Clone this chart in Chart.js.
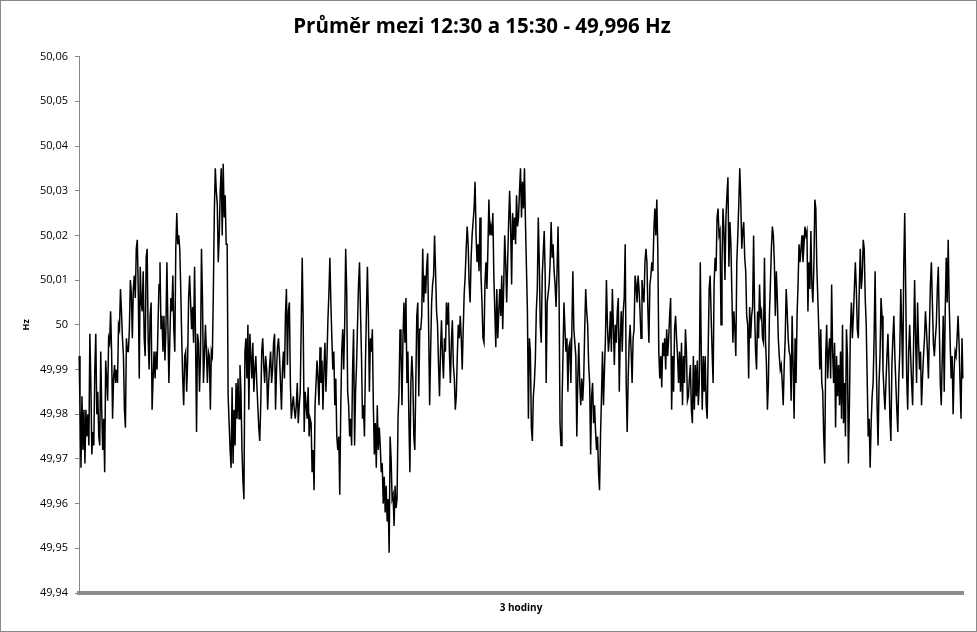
<!DOCTYPE html>
<html lang="cs">
<head>
<meta charset="utf-8">
<title>Průměr mezi 12:30 a 15:30</title>
<script src="https://cdn.jsdelivr.net/npm/chart.js@4.4.1/dist/chart.umd.min.js"></script>
<style>
    html, body { margin: 0; padding: 0; background: #fff; }
    #frame { width: 977px; height: 632px; box-sizing: border-box; border: 1px solid #8a8a8a; }
    canvas { display: block; }
</style>
</head>
<body>
<div id="frame"><canvas id="freq-chart" width="975" height="630"></canvas></div>
<script>
// Frekvence sítě (Hz), odečteno z grafu po půlhodinách
const hz1230 = [
    49.993,49.982,49.968,49.984,49.972,49.981,49.969,49.981,49.975,49.980,
    49.973,49.998,49.987,49.971,49.976,49.973,49.990,49.998,49.980,49.985,
    49.975,49.973,49.994,49.981,49.972,49.979,49.967,49.992,49.988,49.983,
    49.997,49.996,50.003,49.994,49.979,49.988,49.991,49.987,49.990,49.987,
    50.000,49.999,50.008,50.003,49.997,49.993,49.981,49.977,49.997,49.994,
    49.994,49.999,50.010,50.007,49.997,50.008,50.011,50.006,50.017,50.019,
    50.008,49.988,50.013,50.005,50.003,50.012,49.997,49.993,50.015,50.017,
    49.997,49.990,50.002,50.005,49.981,49.988,49.994,49.988,49.994,49.990,
    50.000,50.009,50.014,49.999,50.002,49.994,50.002,49.992,49.999,50.014,
    50.000,49.987,49.997,50.006,50.003,50.011,49.999,49.994,50.017,50.025,
    50.018,50.020,50.017,50.008,49.997,49.988,49.982,49.993,49.994,49.985,
    49.992,50.006,50.011,50.005,49.999,50.004,49.996,50.013,49.997,49.976,
    49.998,49.996,49.985,49.993,50.017,50.006,49.987,49.993,50.000,49.994,
    49.987,49.994,49.993,49.981,49.994,49.993,50.007,50.025,50.035,50.030,
    50.027,50.014,50.020,50.030,50.035,50.020
];
const hz1300 = [
    50.036,50.024,50.029,50.018,50.018,49.984,49.978,49.972,49.968,
    49.986,49.969,49.981,49.973,49.987,49.979,49.988,
    49.979,49.991,49.985,49.972,49.965,49.961,49.994,
    49.997,49.988,50.000,49.981,49.998,49.993,49.988,49.996,49.985,
    49.990,49.993,49.987,49.982,49.977,49.974,49.982,49.994,49.997,49.991,
    49.987,49.993,49.990,49.981,49.987,49.991,49.994,49.987,49.990,49.996,
    49.998,49.981,49.990,49.995,49.997,49.993,49.987,49.981,49.990,49.994,
    49.988,50.002,50.008,49.991,50.003,50.005,49.987,49.979,49.982,49.984,
    49.981,49.979,49.982,49.987,49.978,49.982,49.985,50.000,50.015,50.000,
    49.976,49.985,49.982,49.979,49.986,49.975,49.979,49.978,49.967,49.972,
    49.963,49.982,49.987,49.992,49.988,49.982,49.995,49.987,49.992,49.981,
    49.990,49.996,49.985,49.992,50.001,50.007,50.015,50.005,49.997,49.990,
    49.994,49.982,49.988,49.975,49.972,49.975,49.962,49.981,49.994,49.999,
    49.990,50.000,50.017,50.008,49.985,49.982,49.975,49.979,49.973,49.990,
    49.999,49.973,49.985,49.991,50.000,50.009,50.014,50.003,49.993,49.979,
    49.982,49.975,49.991,50.003,50.013,50.002,49.985,49.997,49.994
];
const hz1330 = [
    49.999,49.982,49.971,49.978,49.968,49.982,49.972,49.977,49.973,49.967,
    49.969,49.960,49.966,49.958,49.964,49.956,49.961,49.949,49.975,49.970,
    49.961,49.962,49.955,49.964,49.959,49.961,49.979,49.985,49.999,49.994,
    49.982,49.997,50.005,49.996,50.006,49.987,49.994,49.979,49.967,49.987,
    49.993,49.988,49.975,49.972,49.987,50.002,50.005,49.984,49.999,49.999,
    50.002,50.017,50.005,50.011,50.007,50.013,50.016,49.999,49.982,49.994,
    50.005,50.009,50.011,50.020,50.012,50.003,50.000,49.991,49.984,49.994,
    50.001,49.993,49.988,49.997,49.994,50.005,50.000,50.005,49.994,49.987,
    49.996,50.001,49.991,49.988,49.981,49.984,49.993,50.000,49.997,50.002,
    49.997,49.990,49.999,50.007,50.011,50.017,50.022,50.018,50.009,50.005,
    50.015,50.020,50.023,50.026,50.032,50.020,50.014,50.018,50.012,50.024,
    50.011,50.005,49.997,49.996,50.009,50.014,50.008,50.017,50.028,50.020,
    50.022,50.020,50.025,50.011,50.003,49.995,50.008,49.997,50.003,50.008,
    50.002,50.011,49.999,50.009,50.020,50.014,50.005,50.014,50.023,50.030,
    50.022,50.009,50.025,50.019,50.024,50.018,50.029,50.022
];
const hz1400 = [
    50.024,50.030,50.035,50.024,50.032,50.026,50.035,50.023,50.013,50.003,
    49.979,49.997,49.994,49.977,49.974,49.984,49.987,49.992,50.003,50.008,
    50.024,50.014,50.000,49.996,50.011,50.016,50.021,50.011,49.987,50.005,
    50.007,50.009,50.014,50.023,50.015,50.018,50.012,50.009,50.004,50.012,
    50.022,50.008,49.978,49.973,49.982,49.993,50.005,49.999,49.994,49.997,
    49.985,49.995,49.996,49.987,49.999,50.012,49.999,49.996,49.993,49.975,
    49.988,49.996,49.987,49.982,49.988,49.983,49.988,49.999,50.008,50.003,
    50.000,49.991,49.987,49.971,49.984,49.987,49.978,49.982,49.976,49.972,
    49.975,49.967,49.963,49.975,49.984,49.994,49.982,49.990,49.997,50.010,
    50.000,49.994,49.997,50.003,49.994,50.008,50.000,49.991,50.000,49.996,
    50.003,50.006,49.985,49.997,50.003,49.994,50.003,50.006,50.018,49.987,
    49.976,49.988,49.996,50.000,49.994,49.987,49.997,49.999,50.011,50.009,
    50.005,50.011,50.008,50.003,49.997,50.010,50.007,50.005,50.014,50.017,
    50.014,50.003,49.996,50.009,50.011,50.014,50.012,50.021,50.026,50.020,
    50.028,50.017,49.994,49.988,49.993,49.986
];
const hz1430 = [
    49.996,49.993,49.997,49.990,49.999,49.993,49.997,50.002,50.006,49.981,
    49.993,49.985,49.999,50.002,49.997,49.993,49.987,49.994,49.985,49.996,
    49.982,49.993,49.987,49.999,49.994,49.983,49.984,49.988,49.991,49.981,
    49.978,49.993,49.981,49.991,49.984,49.992,49.982,49.987,50.014,49.994,
    49.981,49.993,49.985,49.993,49.982,49.979,49.994,50.008,50.011,50.002,
    49.994,49.987,50.009,50.015,50.012,50.024,50.026,50.020,50.021,50.000,
    50.014,50.026,50.021,50.010,50.024,50.029,50.033,50.013,50.023,50.018,
    50.007,49.996,50.003,49.999,49.993,50.014,50.020,50.027,50.035,50.028,
    50.017,50.021,50.023,50.015,50.012,50.002,50.000,49.988,50.004,49.997,
    50.002,50.004,50.020,50.003,49.994,49.990,50.003,49.997,50.009,50.002,
    50.003,49.997,49.996,50.015,49.997,49.991,49.981,49.987,50.002,50.009,
    50.017,50.022,50.020,50.014,50.002,50.012,50.006,49.997,49.993,49.990,
    49.991,49.987,49.982,49.991,49.997,50.008,50.003,49.997,49.994,49.993,
    49.983,50.002,49.991,49.979,49.997,49.987,50.002,50.009,50.018,50.014,
    50.017,50.020,50.014,50.018,50.022,50.020
];
const hz1500 = [
    50.021,50.003,50.014,50.008,50.021,50.009,50.005,50.013,50.028,50.026,
    50.013,50.006,49.999,49.990,49.999,49.987,49.985,49.975,49.969,49.993,
    50.000,49.988,49.994,49.997,49.988,50.009,49.994,49.987,49.996,49.977,
    49.993,49.984,49.991,49.982,49.994,49.979,50.000,49.978,49.987,49.975,
    49.999,49.993,49.969,49.982,49.999,50.005,49.997,50.002,50.008,50.014,
    50.008,49.999,49.997,50.008,50.017,50.008,50.011,50.019,50.017,50.006,
    50.000,49.988,49.975,49.979,49.968,49.978,49.984,49.987,49.997,50.012,
    49.994,49.982,49.973,49.987,49.993,50.006,50.002,49.990,49.985,49.981,
    49.987,49.993,49.998,49.990,49.979,49.974,49.991,49.997,50.002,49.993,
    49.987,49.981,49.976,49.988,49.994,50.008,49.999,49.988,50.013,50.025,
    50.008,49.988,49.981,49.994,50.000,49.993,49.987,49.982,49.996,50.010,
    49.997,49.987,50.005,49.996,49.990,49.994,49.982,49.988,49.993,49.997,
    50.003,49.999,49.994,49.988,49.999,50.009,50.014,50.005,49.996,49.993,
    49.997,50.000,50.008,50.013,50.000,49.987,49.982,49.993,50.002,49.985,
    50.003,50.015,50.005,50.019,50.005,49.996,49.988,49.993,49.980,49.990,
    49.994,49.993,49.997,50.002,49.996,49.987,49.979,49.997,49.988
];

const yMin = 49.94;
const yMax = 50.06;
const yStep = 0.01;
const chartTitle = 'Průměr mezi 12:30 a 15:30 - 49,996 Hz';
const xTitle = '3 hodiny';
const yTitle = 'Hz';

const values = [].concat(hz1230, hz1300, hz1330, hz1400, hz1430, hz1500);
const labels = values.map(() => '');

// formát čísel s desetinnou čárkou (50 bez desetin)
function formatTick(v) {
    return String(Number(v.toFixed(2))).replace('.', ',');
}

const ctx = document.getElementById('freq-chart').getContext('2d');
new Chart(ctx, {
    type: 'line',
    data: {
        labels: labels,
        datasets: [{
            data: values,
            borderColor: '#000000',
            borderWidth: 1.5,
            pointRadius: 0,
            tension: 0,
            fill: false
        }]
    },
    options: {
        responsive: false,
        devicePixelRatio: 1,
        animation: false,
        events: [],
        layout: { padding: { left: 0, right: 13, top: 0, bottom: 0 } },
        plugins: {
            legend: { display: false },
            tooltip: { enabled: false },
            title: {
                display: true,
                text: chartTitle,
                color: '#000',
                font: { family: 'Open Sans', size: 20.5, weight: 'bold' },
                padding: { top: 14, bottom: 17 }
            }
        },
        scales: {
            x: {
                grid: { display: false },
                ticks: { display: false },
                border: { display: true, color: '#8c8c8c', width: 4 },
                title: {
                    display: true,
                    text: xTitle,
                    color: '#000',
                    font: { family: 'Open Sans', size: 10, weight: 'bold' },
                    padding: { top: 0, bottom: 17 }
                },
                afterFit: scale => { scale.height = 38; }
            },
            y: {
                min: yMin,
                max: yMax,
                ticks: {
                    stepSize: yStep,
                    color: '#000',
                    padding: 7,
                    font: { family: 'Open Sans', size: 11 },
                    callback: v => formatTick(v)
                },
                grid: { drawOnChartArea: false, drawTicks: true, tickLength: 4, color: '#868686' },
                border: { display: true, color: '#868686', width: 1 },
                title: {
                    display: true,
                    text: yTitle,
                    color: '#000',
                    font: { family: 'Open Sans', size: 9, weight: 'bold' },
                    padding: { top: 20, bottom: 0 }
                },
                afterFit: scale => { scale.width = 78; }
            }
        }
    }
});
</script>
</body>
</html>
